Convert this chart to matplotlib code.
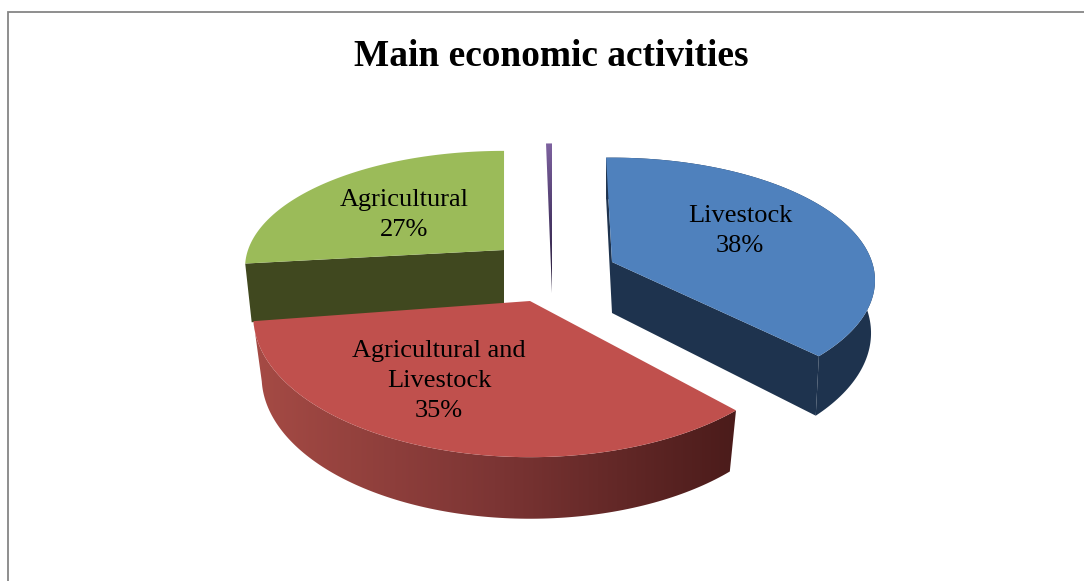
import numpy as np
import matplotlib
matplotlib.use("Agg")
import matplotlib.pyplot as plt
from matplotlib.patches import Polygon
from matplotlib.colors import LinearSegmentedColormap

names = ["Livestock", "Agricultural and\nLivestock", "Agricultural", ""]
shares = [38, 35, 27, 0.5]
top_colors = ["#4F81BD", "#C0504D", "#9BBB59", "#8064A2"]
side_colors = ["#1E334E", None, "#40481F", None]

# apex x, apex y, rx, ry, perspective k, turn in degrees
geom = [(612, 262, 260, 120, 0.15, -1.5),
        (530, 301, 275, 139, 0.11, 0.3),
        (504, 250, 256, 114, 0.15, 1.8),
        (552, 293, 220, 172, 0.15, 0.0)]
# depth, bottom x scale, bottom y scale
sides = [(51, 0.985, 1.09), (60, 0.97, 1.01), (56, 0.975, 1.2), None]
label_xy = [(740, 231), (439, 381), (404, 215)]
label_gaps = [1.52, 1.45, 1.52]

plt.rcParams["font.family"] = ["Liberation Serif", "DejaVu Serif"]

fig = plt.figure(figsize=(10.84, 5.81), dpi=100)
ax = fig.add_axes([0, 0, 1, 1])
ax.set_xlim(0, 1084)
ax.set_ylim(581, 0)
ax.axis("off")


def project(ang, g, dy=0, sx=1.0, sy=1.0):
    # clockwise degrees from the back of the pie, with a little perspective
    a = np.radians(ang)
    u, v = np.sin(a), -np.cos(a)
    w = 1 - g[4] * v
    return np.column_stack([g[0] + sx * g[2] * u / w, g[1] + dy + sy * g[3] * v / w])


def gradient(pts, extent, stops, vertical=False):
    clip = Polygon(pts, closed=True, fc="none", ec="none")
    ax.add_patch(clip)
    cmap = LinearSegmentedColormap.from_list("grad", stops)
    ramp = np.linspace(0, 1, 256)
    ramp = ramp[:, None] if vertical else ramp[None, :]
    im = ax.imshow(ramp, cmap=cmap, extent=extent, aspect="auto", zorder=clip.get_zorder())
    im.set_clip_path(clip)


def draw_slice(i, start, sweep, cuts):
    g = geom[i]
    angs = np.linspace(start, start + sweep, 120)
    top = project(angs, g)
    apex = np.array([[g[0], g[1]]])
    face = np.vstack([apex, top])
    if sides[i] is not None:
        dy, sx, sy = sides[i]
        low = project(angs, g, dy, sx, sy)
        low_apex = np.array([[g[0], g[1] + dy]])
        wall = np.vstack([top, low[::-1]])
        if side_colors[i] is None:
            # front wall of the red slice gets darker towards the right
            gradient(wall, (250, 740, 530, 300),
                     ["#A64B45", "#7C3534", "#4A1B1A"])
        else:
            if i == 0:
                ax.add_patch(Polygon(wall, fc=side_colors[i], ec="none"))
            for k in cuts:
                cut = np.vstack([top[k], apex, low_apex, low[k]])
                ax.add_patch(Polygon(cut, fc=side_colors[i], ec="none"))
    if i == 3:
        gradient(face, (540, 560, 300, 140),
                 ["#8064A2", "#4A3868", "#241A33"], vertical=True)
    else:
        ax.add_patch(Polygon(face, fc=top_colors[i], ec="none"))


total = sum(shares)
sweeps = [s / total * 360 for s in shares]
starts = np.concatenate([[0], np.cumsum(sweeps)[:-1]])

draw_slice(2, starts[2] + geom[2][5], sweeps[2], [0])
draw_slice(3, starts[3] + geom[3][5], sweeps[3], [])
draw_slice(1, starts[1] + geom[1][5], sweeps[1], [])
draw_slice(0, starts[0] + geom[0][5], sweeps[0], [0, -1])

for name, share, (x, y), gap in zip(names, shares, label_xy, label_gaps):
    ax.text(x, y, f"{name}\n{share}%", ha="center", va="center",
            fontsize=19, color="black", linespacing=gap)

ax.text(551, 56, "Main economic activities", ha="center", va="center",
        fontsize=26.9, fontweight="bold", color="black")

# chart border, only the top and left edges fall inside the frame
ax.plot([7.5, 7.5, 1084], [581, 11.5, 11.5], color="#868686", lw=1.3,
        solid_joinstyle="miter")

ax.set_xlim(0, 1084)
ax.set_ylim(581, 0)
fig.savefig("out.png", dpi=100)
